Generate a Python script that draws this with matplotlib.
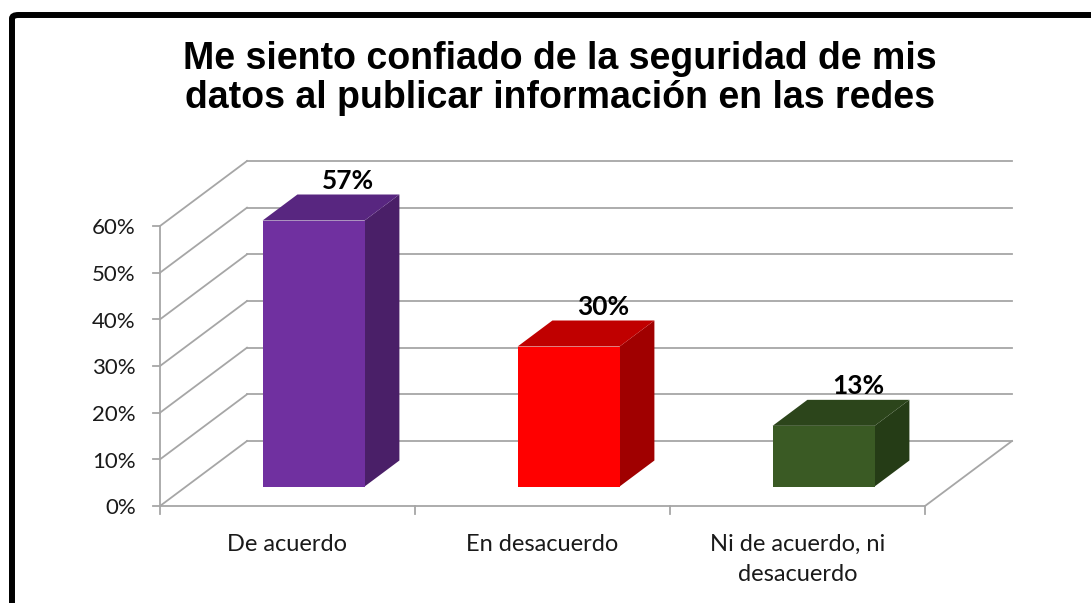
import matplotlib.pyplot as plt
from matplotlib.patches import Polygon, FancyBboxPatch

categories = ['De acuerdo', 'En desacuerdo', 'Ni de acuerdo, ni\ndesacuerdo']
values = [57, 30, 13]
labels = ['57%', '30%', '13%']
yticks = [0, 10, 20, 30, 40, 50, 60]
ytick_labels = ['0%', '10%', '20%', '30%', '40%', '50%', '60%']
front_colors = ['#7030A0', '#FF0000', '#3A5A24']
top_colors = ['#582680', '#C00000', '#2C451B']
side_colors = ['#4A1F68', '#A00000', '#253C16']

title = 'Me siento confiado de la seguridad de mis\ndatos al publicar información en las redes'

W, H = 1091, 603
fig = plt.figure(figsize=(W / 100, H / 100), dpi=100)

# pixel geometry of the front plane
x0_px, y0_px = 160, 506
px_per_cat = 255
px_per_pct = (506 - 226) / 60.0
xlim = (-0.62, 3.6)
ylim = (-21, 95)
left = (x0_px + xlim[0] * px_per_cat) / W
width = (xlim[1] - xlim[0]) * px_per_cat / W
bottom = 1 - (y0_px - ylim[0] * px_per_pct) / H
height = (ylim[1] - ylim[0]) * px_per_pct / H
ax = fig.add_axes([left, bottom, width, height])
ax.set_xlim(*xlim)
ax.set_ylim(*ylim)
ax.axis('off')

# depth offset (3D look)
dx = 87 / px_per_cat
dy = 65 / px_per_pct
n = len(categories)
grid_c = '#A6A6A6'

# walls and grid
for g, lab in zip(yticks, ytick_labels):
    ax.plot([0, dx], [g, g + dy], color=grid_c, lw=1.3, zorder=1)
    ax.plot([dx, n + dx], [g + dy, g + dy], color=grid_c, lw=1.3, zorder=1)
    ax.plot([-0.028, 0], [g, g], color=grid_c, lw=1.3, zorder=1)
    ax.text(-0.095, g - 0.5, lab, ha='right', va='center',
            fontsize=16, family='Lato', color='#1a1a1a')
ax.plot([0, 0], [0, yticks[-1]], color=grid_c, lw=1.3, zorder=1)
ax.plot([0, n], [0, 0], color=grid_c, lw=1.3, zorder=1)
ax.plot([n, n + dx], [0, dy], color=grid_c, lw=1.3, zorder=1)
for i in range(n + 1):
    ax.plot([i, i], [0, -1.7], color=grid_c, lw=1.3, zorder=1)

# 3D bars
bw = 0.4
for i, v in enumerate(values):
    fx = i + 0.5 - bw / 2 + 0.3 * dx
    fy = 0.3 * dy
    ddx, ddy = 0.4 * dx, 0.4 * dy
    front = [(fx, fy), (fx + bw, fy), (fx + bw, fy + v), (fx, fy + v)]
    top = [(fx, fy + v), (fx + bw, fy + v), (fx + bw + ddx, fy + v + ddy), (fx + ddx, fy + v + ddy)]
    side = [(fx + bw, fy), (fx + bw + ddx, fy + ddy), (fx + bw + ddx, fy + v + ddy), (fx + bw, fy + v)]
    ax.add_patch(Polygon(side, closed=True, fc=side_colors[i], ec='none', zorder=3))
    ax.add_patch(Polygon(top, closed=True, fc=top_colors[i], ec='none', zorder=3))
    ax.add_patch(Polygon(front, closed=True, fc=front_colors[i], ec='none', zorder=4))
    ax.text(i + 0.5 + 0.7 * dx, v + 0.7 * dy + 0.4, labels[i], ha='center', va='bottom',
            fontsize=19, fontweight='bold', family='Lato', color='black')
    ax.text(i + 0.5, -6.0, categories[i], ha='center', va='top', fontsize=17,
            family='Lato', color='#1a1a1a', linespacing=1.55)

fig.text(560 / W, 1 - 41 / H, title, ha='center', va='top', fontsize=27,
         fontweight='bold', family='Liberation Sans', linespacing=1.12)

# outer frame
frame = FancyBboxPatch((12 / W, -0.2), 1.2, 1 - 15 / H + 0.2,
                       boxstyle='round,pad=0,rounding_size=0.006',
                       transform=fig.transFigure, fc='none', ec='black', lw=4.3,
                       clip_on=False)
fig.patches.append(frame)

fig.savefig('out.png', dpi=100)
